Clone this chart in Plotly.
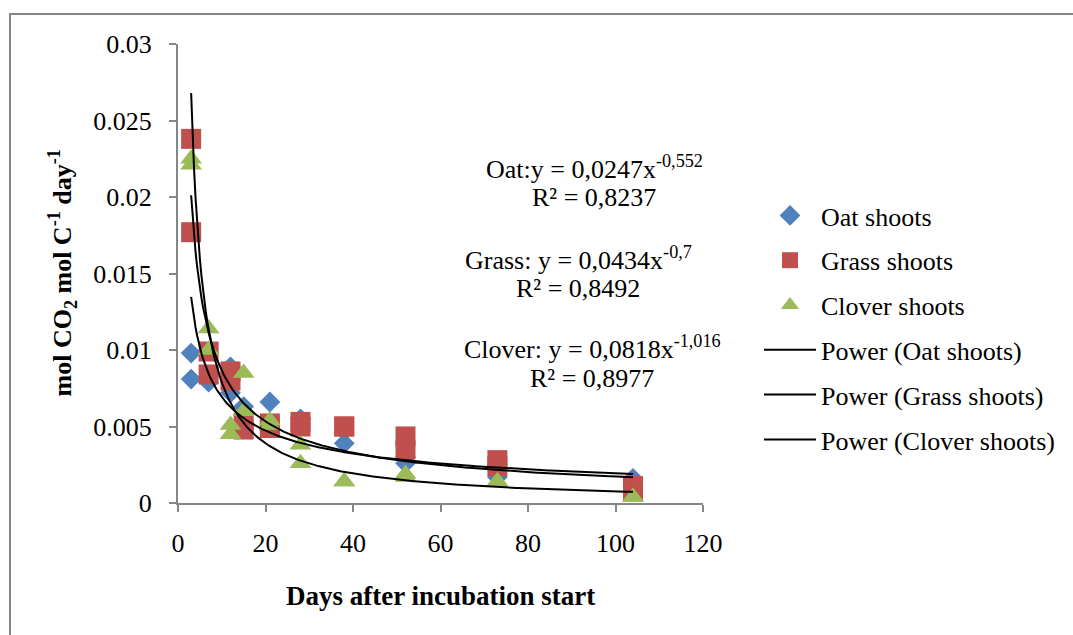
import numpy as np
import plotly.graph_objects as go

# ---------------- data ----------------
days = [3, 3, 7, 7, 12, 12, 15, 15, 21, 21, 28, 28, 38, 38, 52, 52, 73, 73, 104, 104]

oat_shoots = [0.0098, 0.0081, 0.0079, 0.0083, 0.0089, 0.0072, 0.0063, 0.0058, 0.0066, 0.0052,
              0.0055, 0.0050, 0.0039, 0.0047, 0.0026, 0.0030, 0.0017, 0.0025, 0.0016, 0.0010]
grass_shoots = [0.0238, 0.0177, 0.0099, 0.0084, 0.0086, 0.0080, 0.0052, 0.0048, 0.0052, 0.0049,
                0.0053, 0.0050, 0.0050, 0.0050, 0.00435, 0.0035, 0.0028, 0.0024, 0.0011, 0.0008]
clover_shoots = [0.0225, 0.0221, 0.0114, 0.0100, 0.0051, 0.0045, 0.0085, 0.0060, 0.0054, 0.0051,
                 0.0038, 0.0026, 0.0014, 0.0014, 0.0019, 0.0017, 0.0014, 0.0014, 0.0004, 0.0004]

series_names = ["Oat shoots", "Grass shoots", "Clover shoots"]
# power trendline coefficients y = a * x^b (as printed on the chart)
fit_a = [0.0247, 0.0434, 0.0818]
fit_b = [-0.552, -0.7, -1.016]
fit_labels = ["Oat:y = 0,0247x<sup>-0,552</sup>", "Grass: y = 0,0434x<sup>-0,7</sup>",
              "Clover: y = 0,0818x<sup>-1,016</sup>"]
fit_r2 = ["R² = 0,8237", "R² = 0,8492", "R² = 0,8977"]

x_tick_vals = [0, 20, 40, 60, 80, 100, 120]
y_tick_vals = [0, 0.005, 0.01, 0.015, 0.02, 0.025, 0.03]
y_tick_text = ["0", "0.005", "0.01", "0.015", "0.02", "0.025", "0.03"]

# ---------------- style ----------------
FONT = "Liberation Serif, Times New Roman, serif"
FS = 26
colors = ["#4F81BD", "#C0504D", "#9BBB59"]
symbols = ["diamond", "square", "triangle-up"]
sizes = [16, 20, 19]
AXIS = "#868686"

W, H = 1073, 635
L, R, T, B = 178, 370, 44, 132
pw, ph = W - L - R, H - T - B


def px_x(p):
    return (p - L) / pw


def px_y(p):
    return (H - B - p) / ph


fig = go.Figure()
values = [oat_shoots, grass_shoots, clover_shoots]
for i, name in enumerate(series_names):
    fig.add_trace(go.Scatter(
        x=days, y=values[i], mode="markers", name=name,
        legendgroup=name,
        marker=dict(symbol=symbols[i], size=sizes[i], color=colors[i], line=dict(width=0)),
    ))

xfit = np.linspace(min(days), max(days), 300)
for i, name in enumerate(series_names):
    fig.add_trace(go.Scatter(
        x=xfit, y=fit_a[i] * xfit ** fit_b[i], mode="lines",
        name=f"Power ({name})", legendgroup=f"Power ({name})",
        line=dict(color="black", width=2),
    ))

axis_common = dict(showline=True, linecolor=AXIS, linewidth=2, ticks="outside",
                   tickcolor=AXIS, tickwidth=2, ticklen=7, showgrid=False, zeroline=False,
                   tickfont=dict(family=FONT, size=FS, color="black"))

fig.update_xaxes(range=[0, 120], tickvals=x_tick_vals, ticklabelstandoff=9, **axis_common)
fig.update_yaxes(range=[0, 0.03], tickvals=y_tick_vals, ticktext=y_tick_text,
                 ticklabelstandoff=12, **axis_common)

# fit equation annotations
eq_y = [167, 258, 347]
r2_y = [198, 288, 378]
eq_cx = [594, 578, 592]
anns = []
for i in range(3):
    anns.append(dict(x=px_x(eq_cx[i]), y=px_y(eq_y[i]), xref="paper", yref="paper",
                     text=fit_labels[i], showarrow=False, xanchor="center", yanchor="middle",
                     font=dict(family=FONT, size=FS, color="black")))
    anns.append(dict(x=px_x(eq_cx[i]), y=px_y(r2_y[i]), xref="paper", yref="paper",
                     text=fit_r2[i], showarrow=False, xanchor="center", yanchor="middle",
                     font=dict(family=FONT, size=FS, color="black")))

anns.append(dict(x=px_x(440), y=px_y(596), xref="paper", yref="paper",
                 text="<b>Days after incubation start</b>", showarrow=False,
                 xanchor="center", yanchor="middle",
                 font=dict(family=FONT, size=27, color="black")))
anns.append(dict(x=px_x(62), y=0.5, xref="paper", yref="paper", textangle=-90,
                 text="<b>mol CO<sub>2</sub> mol C<sup>-1</sup> day<sup>-1</sup></b>",
                 showarrow=False, xanchor="center", yanchor="middle",
                 font=dict(family=FONT, size=FS, color="black")))

fig.update_layout(
    width=W, height=H,
    margin=dict(l=L, r=R, t=T, b=B),
    paper_bgcolor="white", plot_bgcolor="white",
    showlegend=True,
    legend=dict(x=px_x(759), y=px_y(192), xanchor="left", yanchor="top",
                font=dict(family=FONT, size=FS, color="black"),
                traceorder="grouped", tracegroupgap=8, itemwidth=52,
                bgcolor="rgba(0,0,0,0)"),
    annotations=anns,
    shapes=[dict(type="rect", xref="paper", yref="paper",
                 x0=px_x(10), x1=px_x(1090), y0=px_y(660), y1=px_y(14),
                 line=dict(color=AXIS, width=2), fillcolor="rgba(0,0,0,0)", layer="below")],
)

fig.write_html("out.html")
